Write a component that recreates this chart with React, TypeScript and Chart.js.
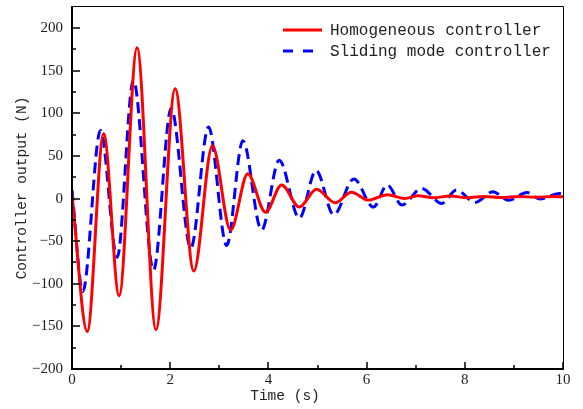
import React, { useEffect, useRef } from "react";
import { Chart, registerables } from "chart.js";

Chart.register(...registerables);

// Homogeneous controller: time (s) and output (N) at extrema
const homTime = [0, 0.31, 0.645, 0.96, 1.325, 1.71, 2.1, 2.48, 2.86, 3.23, 3.58, 3.94, 4.27, 4.63, 4.98, 5.36, 5.69, 6.04, 6.42, 6.78, 7.05, 7.36, 7.7, 8.05, 8.4, 8.75, 9.1, 9.45, 9.8, 10];
const homValue = [4, -156, 76, -114, 177, -154, 129, -85, 62, -37, 29, -16, 16, -10, 11, -5, 7.5, -1.8, 4.5, 0.2, 3.3, 1, 3, 1, 2.5, 1.2, 2.5, 1.5, 2.5, 2];

// Sliding mode controller
const smcTime = [0, 0.22, 0.58, 0.92, 1.25, 1.66, 2.02, 2.42, 2.78, 3.15, 3.48, 3.86, 4.22, 4.63, 4.97, 5.33, 5.74, 6.14, 6.42, 6.72, 7.12, 7.53, 7.83, 8.21, 8.57, 8.89, 9.27, 9.53, 9.92, 10];
const smcValue = [10, -109, 80, -69, 139, -84, 106, -58, 84, -55, 68, -37, 45, -23, 33, -19, 23, -10, 16, -7.5, 12, -5.7, 10, -4.5, 8, -2, 7, -0.5, 6, 5];

const seriesNames = ["Homogeneous controller", "Sliding mode controller"];
const xTitle = "Time (s)";
const yTitle = "Controller output (N)";

const xMajor = [0, 2, 4, 6, 8, 10];
const xMinor = [1, 3, 5, 7, 9];
const yMajor = [-200, -150, -100, -50, 0, 50, 100, 150, 200];
const yMinor = [-175, -125, -75, -25, 25, 75, 125, 175];

const monoFont = "'Liberation Mono', 'DejaVu Sans Mono', monospace";
const serifFont = "'Liberation Serif', 'DejaVu Serif', serif";

const framePlugin = {
  id: "frame",
  afterDraw(chart: any) {
    const { ctx, chartArea } = chart;
    const { left, right, top, bottom } = chartArea;
    const xs = chart.scales.x;
    const ys = chart.scales.y;
    ctx.save();
    ctx.strokeStyle = "#000";
    // top & right thin
    ctx.lineWidth = 1;
    ctx.beginPath();
    ctx.moveTo(left, top + 0.5);
    ctx.lineTo(right + 0.5, top + 0.5);
    ctx.lineTo(right + 0.5, bottom);
    ctx.stroke();
    // left & bottom thick
    ctx.lineWidth = 2;
    ctx.beginPath();
    ctx.moveTo(left, top);
    ctx.lineTo(left, bottom);
    ctx.lineTo(right + 1, bottom);
    ctx.stroke();
    // ticks
    ctx.lineWidth = 1.5;
    ctx.beginPath();
    for (const v of xMajor) {
      const p = Math.round(xs.getPixelForValue(v));
      ctx.moveTo(p, bottom);
      ctx.lineTo(p, bottom - 7);
    }
    for (const v of xMinor) {
      const p = Math.round(xs.getPixelForValue(v));
      ctx.moveTo(p, bottom);
      ctx.lineTo(p, bottom - 4);
    }
    for (const v of yMajor) {
      const p = Math.round(ys.getPixelForValue(v));
      ctx.moveTo(left, p);
      ctx.lineTo(left + 8, p);
    }
    for (const v of yMinor) {
      const p = Math.round(ys.getPixelForValue(v));
      ctx.moveTo(left, p);
      ctx.lineTo(left + 4, p);
    }
    ctx.stroke();

    // legend
    ctx.lineWidth = 3;
    ctx.strokeStyle = "#ff0000";
    ctx.setLineDash([]);
    ctx.beginPath();
    ctx.moveTo(283, 30);
    ctx.lineTo(322, 30);
    ctx.stroke();
    ctx.strokeStyle = "#0000ff";
    ctx.setLineDash([10, 10]);
    ctx.beginPath();
    ctx.moveTo(283, 51);
    ctx.lineTo(322, 51);
    ctx.stroke();
    ctx.setLineDash([]);
    ctx.fillStyle = "#222";
    ctx.font = `16px ${monoFont}`;
    ctx.textAlign = "left";
    ctx.textBaseline = "middle";
    ctx.fillText(seriesNames[0], 330, 31);
    ctx.fillText(seriesNames[1], 330, 52);

    // axis titles
    ctx.font = `14.5px ${monoFont}`;
    ctx.textAlign = "center";
    ctx.textBaseline = "middle";
    ctx.fillText(xTitle, 285, 396);
    ctx.save();
    ctx.translate(22, 188);
    ctx.rotate(-Math.PI / 2);
    ctx.fillText(yTitle, 0, 0);
    ctx.restore();
    ctx.restore();
  },
};

export default function App() {
  const ref = useRef<HTMLCanvasElement | null>(null);
  useEffect(() => {
    if (!ref.current) return;
    const chart = new Chart(ref.current, {
      type: "line",
      data: {
        datasets: [
          {
            label: seriesNames[0],
            data: homTime.map((t, i) => ({ x: t, y: homValue[i] })),
            borderColor: "#ff0000",
            borderWidth: 3,
            pointRadius: 0,
            cubicInterpolationMode: "monotone",
            fill: false,
          },
          {
            label: seriesNames[1],
            data: smcTime.map((t, i) => ({ x: t, y: smcValue[i] })),
            borderColor: "#0000ff",
            borderWidth: 3,
            borderDash: [11, 6],
            pointRadius: 0,
            cubicInterpolationMode: "monotone",
            fill: false,
          },
        ],
      },
      options: {
        responsive: false,
        animation: false,
        layout: { padding: { left: 0, right: 20, top: 6, bottom: 0 } },
        plugins: { legend: { display: false }, tooltip: { enabled: false } },
        scales: {
          x: {
            type: "linear",
            min: 0,
            max: 10,
            grid: { display: false, drawTicks: false },
            border: { display: false },
            ticks: {
              stepSize: 2,
              padding: 2,
              color: "#222",
              font: { family: serifFont, size: 15 },
              maxRotation: 0,
            },
            afterFit(scale: any) {
              scale.height = 40;
              scale.paddingLeft = 0;
              scale.paddingRight = 0;
            },
          },
          y: {
            type: "linear",
            min: -200,
            max: 226,
            grid: { display: false, drawTicks: false },
            border: { display: false },
            ticks: {
              stepSize: 50,
              padding: 9,
              color: "#222",
              font: { family: serifFont, size: 15 },
              callback: (v: any) => (v < 0 ? `\u2212${Math.abs(v)}` : `${v}`),
            },
            afterBuildTicks(scale: any) {
              scale.ticks = scale.ticks.filter((t: any) => t.value % 50 === 0 && t.value <= 200);
            },
            afterFit(scale: any) {
              scale.width = 72;
              scale.paddingTop = 0;
              scale.paddingBottom = 0;
            },
          },
        },
      },
      plugins: [framePlugin],
    } as any);
    return () => chart.destroy();
  }, []);
  return (
    <div style={{ position: "fixed", left: 0, top: 0, width: 583, height: 409, background: "#fff" }}>
      <canvas ref={ref} width={583} height={409} style={{ width: 583, height: 409 }} />
    </div>
  );
}
